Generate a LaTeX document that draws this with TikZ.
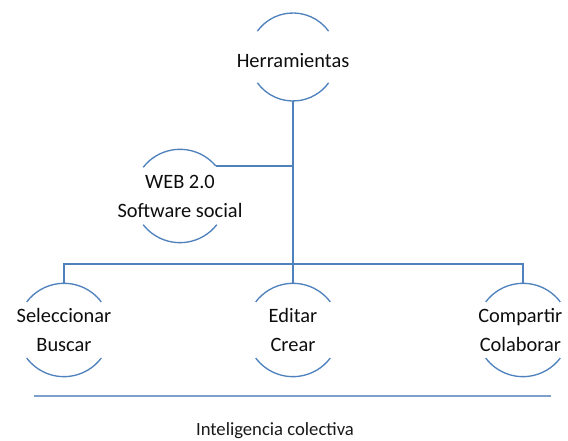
\documentclass[tikz,border=0pt]{standalone}
\usepackage{fontspec}
\setmainfont{Carlito}
\usepackage{xcolor}
\usepackage{tikz}

\definecolor{lineBlue}{HTML}{4F81BD}

\begin{document}
\begin{tikzpicture}[
        x=0.75pt, y=0.75pt,
        bubble/.style={circle, minimum size=70pt, inner sep=0pt, outer sep=0pt},
        bubbleText/.style={font=\fontsize{15.3}{21.75}\selectfont, align=center, text=black!95},
        rim/.style={draw=lineBlue, line width=1pt},
        link/.style={draw=lineBlue, line width=1.5pt},
        baseLine/.style={draw=lineBlue!75, line width=1.5pt}
    ]
        \useasboundingbox (0,0) rectangle (568,441);

        % ========== BUBBLES ==========
        \node[bubble, minimum size=66pt, label={[bubbleText, yshift=-3pt]center:Herramientas}] (tools) at (293,384) {};
        \node[bubble, label={[bubbleText]center:WEB 2.0\\Software social}] (web) at (180,245) {};
        \node[bubble, label={[bubbleText]center:Seleccionar\\Buscar}] (select) at (64,111) {};
        \node[bubble, label={[bubbleText]center:Editar\\Crear}] (edit) at (293,111) {};
        \node[bubble, label={[bubbleText, xshift=-2pt]center:Compartir\\Colaborar}] (share) at (523,111) {};

        % ========== OPEN RIMS (top and bottom arcs) ==========
        \draw[rim] (tools.36) arc[start angle=36, end angle=144, radius=33pt];
        \draw[rim] (tools.216) arc[start angle=216, end angle=324, radius=33pt];
        \draw[rim] (web.40) arc[start angle=40, end angle=142, radius=35pt];
        \draw[rim] (web.218) arc[start angle=218, end angle=322, radius=35pt];
        \draw[rim] (select.37) arc[start angle=37, end angle=143, radius=35pt];
        \draw[rim] (select.217) arc[start angle=217, end angle=323, radius=35pt];
        \draw[rim] (edit.37) arc[start angle=37, end angle=143, radius=35pt];
        \draw[rim] (edit.217) arc[start angle=217, end angle=323, radius=35pt];
        \draw[rim] (share.37) arc[start angle=37, end angle=143, radius=35pt];
        \draw[rim] (share.217) arc[start angle=217, end angle=323, radius=35pt];

        % ========== TREE LINKS ==========
        \coordinate (branch) at (293,177);
        \draw[link] (tools.south) -- (edit.north);
        \draw[link] (web.40) -- (web.40 -| tools.south);
        \draw[link] (select.north) |- (branch) -| (share.north);

        % ========== BASE ==========
        \draw[baseLine] (34,45) -- (551,45);
        \node[font=\fontsize{14}{16}\selectfont, text=black!90] (collective) at (275,10) {Inteligencia colectiva};

    \end{tikzpicture}
\end{document}
